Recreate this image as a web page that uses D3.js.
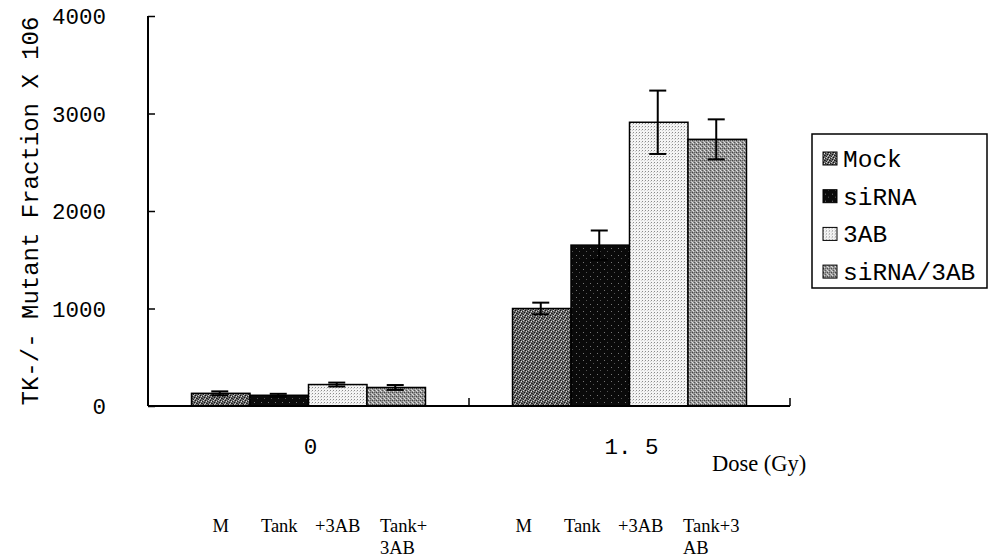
<!DOCTYPE html>
<html>
<head>
<meta charset="utf-8">
<script src="https://cdn.jsdelivr.net/npm/d3@7"></script>
<style>
  body { margin: 0; background: #fff; }
  svg { display: block; }
</style>
</head>
<body>
<div id="chart"></div>
<script>
// Data
const doses = ["0", "1.5"];
const doseLabels = ["0", "1. 5"];
const series = ["Mock", "siRNA", "3AB", "siRNA/3AB"];
const mockValues = [130, 1000];
const sirnaValues = [110, 1650];
const ab3Values = [220, 2910];
const comboValues = [190, 2735];
const mockErr = [20, 60];
const sirnaErr = [15, 150];
const ab3Err = [20, 325];
const comboErr = [25, 205];
const yTicks = [0, 1000, 2000, 3000, 4000];
const barLabels = [
    [["M"], ["Tank"], ["+3AB"], ["Tank+", "3AB"]],
    [["M"], ["Tank"], ["+3AB"], ["Tank+3", "AB"]]
];

const width = 990;
const height = 560;
const margin = { top: 16, right: 200, bottom: 154, left: 148 };

const svg = d3.select("#chart")
    .append("svg")
    .attr("width", width)
    .attr("height", height);

const mono = "'Liberation Mono', 'DejaVu Sans Mono', monospace";
const serif = "'Liberation Serif', 'Times New Roman', serif";

// Textures that mimic the scanned hatch fills
const defs = svg.append("defs");
const makePattern = (id, base, size, dots) => {
    const p = defs.append("pattern")
        .attr("id", id)
        .attr("width", size)
        .attr("height", size)
        .attr("patternUnits", "userSpaceOnUse");
    p.append("rect").attr("width", size).attr("height", size).attr("fill", base);
    dots.forEach((d) => {
        p.append("rect")
            .attr("x", d[0]).attr("y", d[1])
            .attr("width", 1).attr("height", 1)
            .attr("fill", d[2]);
    });
};
makePattern("pat-mock", "#6a6a6a", 5, [
    [0, 0, "#111"], [2, 1, "#222"], [4, 2, "#111"], [1, 3, "#1a1a1a"], [3, 4, "#222"],
    [1, 1, "#ddd"], [3, 0, "#ccc"], [0, 3, "#ccc"], [4, 4, "#bbb"], [2, 3, "#333"]
]);
makePattern("pat-sirna", "#0a0a0a", 7, [[2, 3, "#777"], [5, 6, "#555"]]);
makePattern("pat-3ab", "#f4f4f4", 3, [[0, 0, "#8a8a8a"], [2, 1, "#d0d0d0"]]);
makePattern("pat-combo", "#959595", 4, [
    [0, 0, "#444"], [2, 2, "#555"], [1, 3, "#ddd"], [3, 1, "#ccc"], [2, 0, "#666"], [0, 2, "#e0e0e0"]
]);
const fills = ["url(#pat-mock)", "url(#pat-sirna)", "url(#pat-3ab)", "url(#pat-combo)"];

const values = [mockValues, sirnaValues, ab3Values, comboValues];
const errors = [mockErr, sirnaErr, ab3Err, comboErr];
const data = [];
doses.forEach((dose, i) => {
    series.forEach((s, j) => {
        data.push({ dose: dose, series: s, value: values[j][i], err: errors[j][i], gi: i, si: j });
    });
});

const x0 = d3.scaleBand()
    .domain(doses)
    .range([margin.left, width - margin.right])
    .padding(0);
const x1 = d3.scaleBand()
    .domain(series)
    .range([0, x0.bandwidth()])
    .paddingInner(0)
    .paddingOuter(0.744);
const y = d3.scaleLinear()
    .domain([0, 4000])
    .range([height - margin.bottom, margin.top]);

// Bars
svg.append("g")
    .selectAll("rect")
    .data(data)
    .enter()
    .append("rect")
    .attr("x", (d) => x0(d.dose) + x1(d.series))
    .attr("y", (d) => y(d.value))
    .attr("width", x1.bandwidth())
    .attr("height", (d) => y(0) - y(d.value))
    .attr("fill", (d) => fills[d.si])
    .attr("stroke", "#000")
    .attr("stroke-width", 1.5);

// Error bars
const capW = 8.5;
const eb = svg.append("g").attr("stroke", "#000").attr("stroke-width", 2);
data.forEach((d) => {
    const cx = x0(d.dose) + x1(d.series) + x1.bandwidth() / 2 - 1;
    const top = y(d.value + d.err);
    const bot = y(d.value - d.err);
    eb.append("line").attr("x1", cx).attr("x2", cx).attr("y1", top).attr("y2", bot);
    eb.append("line").attr("x1", cx - capW).attr("x2", cx + capW).attr("y1", top).attr("y2", top);
    eb.append("line").attr("x1", cx - capW).attr("x2", cx + capW).attr("y1", bot).attr("y2", bot);
});

// Y axis
const yAxis = svg.append("g")
    .attr("transform", "translate(" + margin.left + ",0)")
    .call(d3.axisRight(y).tickValues(yTicks).tickSize(7).tickFormat(""));
yAxis.select(".domain").attr("stroke-width", 2).attr("d", "M0," + y(4000) + "V" + y(0));
yAxis.selectAll(".tick line").attr("stroke-width", 1.5);
svg.append("g")
    .selectAll("text")
    .data(yTicks)
    .enter()
    .append("text")
    .attr("x", 106)
    .attr("y", (d) => y(d))
    .attr("dy", "0.36em")
    .attr("text-anchor", "end")
    .style("font-family", mono)
    .style("font-size", "22.5px")
    .text((d) => d);

// X axis with ticks between categories
const xAxis = svg.append("g");
xAxis.append("line")
    .attr("x1", margin.left).attr("x2", width - margin.right)
    .attr("y1", y(0)).attr("y2", y(0))
    .attr("stroke", "#000").attr("stroke-width", 2);
const bounds = doses.map((d) => x0(d)).concat([x0(doses[doses.length - 1]) + x0.bandwidth()]);
xAxis.selectAll(".xt")
    .data(bounds.slice(1))
    .enter()
    .append("line")
    .attr("x1", (d) => d).attr("x2", (d) => d)
    .attr("y1", y(0)).attr("y2", y(0) - 8)
    .attr("stroke", "#000").attr("stroke-width", 1.5);
xAxis.selectAll("text")
    .data(doses)
    .enter()
    .append("text")
    .attr("x", (d) => x0(d) + x0.bandwidth() / 2 + 2)
    .attr("y", y(0) + 48)
    .attr("text-anchor", "middle")
    .style("font-family", mono)
    .style("font-size", "22.5px")
    .text((d, i) => doseLabels[i]);

// Axis titles
svg.append("text")
    .attr("transform", "translate(38," + (y(0) + y(4000)) / 2 + ") rotate(-90)")
    .attr("text-anchor", "middle")
    .style("font-family", mono)
    .style("font-size", "24px")
    .text("TK-/- Mutant Fraction X 106");
svg.append("text")
    .attr("x", 712)
    .attr("y", 471)
    .style("font-family", serif)
    .style("font-size", "22.5px")
    .text("Dose (Gy)");

// Treatment labels under each bar
const groupShift = [0, -18];
const lbl = svg.append("g")
    .style("font-family", serif)
    .style("font-size", "18.5px");
doses.forEach((dose, gi) => {
    series.forEach((s, si) => {
        const lines = barLabels[gi][si];
        const left = x0(dose) + x1(s);
        if (lines.length === 1) {
            lbl.append("text")
                .attr("x", left + x1.bandwidth() / 2 + groupShift[gi])
                .attr("y", 532)
                .attr("text-anchor", "middle")
                .text(lines[0]);
        } else {
            lines.forEach((t, k) => {
                lbl.append("text")
                    .attr("x", left + 13 + groupShift[gi])
                    .attr("y", 532 + k * 22)
                    .text(t);
            });
        }
    });
});

// Legend
const legend = svg.append("g");
legend.append("rect")
    .attr("x", 812).attr("y", 134)
    .attr("width", 175).attr("height", 154)
    .attr("fill", "#fff")
    .attr("stroke", "#000")
    .attr("stroke-width", 1.5);
const items = legend.selectAll(".item")
    .data(series)
    .enter()
    .append("g")
    .attr("transform", (d, i) => "translate(823," + (167 + i * 37.7) + ")");
items.append("rect")
    .attr("x", 0).attr("y", -15)
    .attr("width", 14).attr("height", 13)
    .attr("fill", (d, i) => fills[i])
    .attr("stroke", "#000")
    .attr("stroke-width", 1);
items.append("text")
    .attr("x", 20)
    .attr("y", 0)
    .style("font-family", mono)
    .style("font-size", "24.5px")
    .text((d) => d);
</script>
</body>
</html>
